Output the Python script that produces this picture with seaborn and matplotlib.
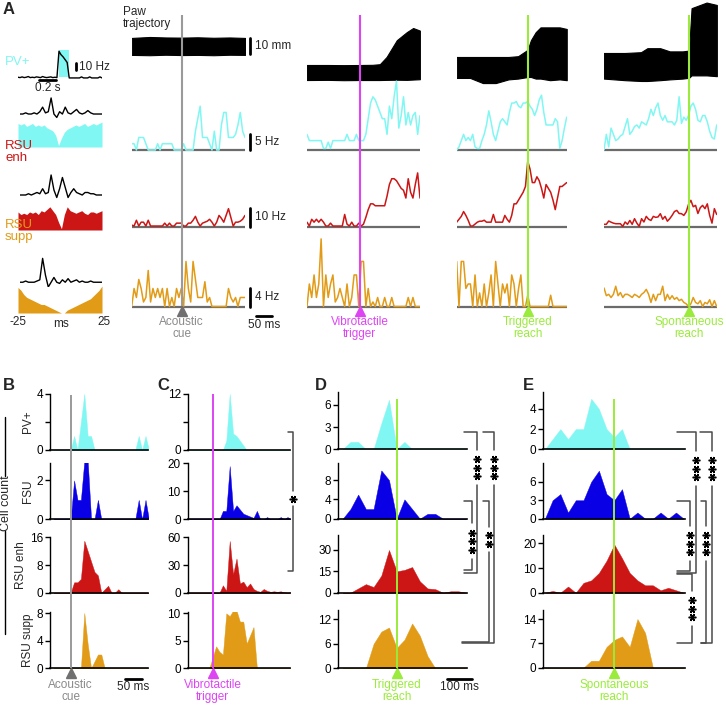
import numpy as np
import matplotlib
matplotlib.use("Agg")
import matplotlib.pyplot as plt
import seaborn as sns

W, H = 726, 705

CYAN = "#80f7f2"
BLUE = "#0a00e6"
RED = "#cc1616"
ORANGE = "#e19b17"
MAGENTA = "#dd45f3"
GREEN = "#9aeb3c"
GRAY = "#9a9a9a"
BASE = "#6b6b6b"

# ---------------- Panel A, left column ----------------
# PV+ opto-tagging PSTH (Hz), 25 ms bins, light on 0-0.12 s
pv_opto = [1, 0.5, 1.5, 0.5, 1, 2, 0.5, 1, 0.5, 1.5, 1, 0.5, 2, 1, 0.5, 1, 1.5, 0.5, 1, 0.5,
           38, 33, 30, 26, 22,
           0, 0, 0, 0, 0, 0, 1.5, 0, 0, 0, 1.5, 0, 0, 0, 0, 1.5, 0]
# cross- (black) and auto-correlograms (filled), -25..25 ms
pv_xcorr = [2, 2, 2.5, 2, 2, 2.5, 2, 3, 5, 2.5, 3, 9, 2, 0.5, 3, 2, 5, 2.5, 2, 3,
            4, 2.5, 2, 2.5, 3.5, 2.5, 2, 2, 2, 2]
pv_acorr = [8, 7.5, 8, 7, 7.5, 8, 7, 7.5, 7, 7.5, 6.5, 6, 5.5, 4, 0.5, 3, 5, 6, 6.5, 7,
            7.5, 7, 7.5, 8, 7, 7.5, 8, 7.5, 8, 8.5]
enh_xcorr = [2, 2, 2, 2.5, 2, 2.5, 3, 2.5, 4.5, 2.5, 3, 10, 4, 1, 4.5, 9, 5, 1, 3, 4.5,
             3, 2.5, 2, 3, 3, 2.5, 2.5, 2, 2, 2]
enh_acorr = [7, 6, 6.5, 6, 7, 6.5, 7, 6, 7.5, 7, 8, 9, 7.5, 6, 3, 0.5, 6, 9, 7.5, 7,
             6.5, 7, 7.5, 6.5, 6, 7, 7, 6.5, 7, 7.5]
supp_xcorr = [2, 2, 2.5, 2, 2, 2, 2.5, 3, 12, 5, 0, 2, 4, 2, 1.5, 3, 2, 3.5, 2, 2.5,
              3, 2, 2.5, 2, 2, 2.5, 2, 2, 2, 2]
supp_acorr = [9, 8, 6.5, 5.5, 5, 4.5, 4, 3.5, 3, 3, 2.5, 2, 1.5, 1, 0.5, 0, 0, 1, 1.5, 2,
              2.5, 3, 3.5, 4, 4.5, 5, 6, 7, 8, 9.5]

# ---------------- Panel A, paw trajectory envelopes (mm) ----------------
paw_t_cue = [-156, -100, -50, 0, 50, 100, 150, 198]
paw_hi_cue = [29.4, 30, 29.7, 29.6, 29.8, 29.5, 29.7, 29.4]
paw_lo_cue = [18.8, 18.6, 18.9, 18.7, 18.8, 18.6, 18.9, 18.8]
paw_t_vib = [-165, -100, -50, 0, 40, 63, 84, 116, 147, 167, 188]
paw_hi_vib = [12.5, 12.5, 12.4, 12.5, 12.6, 13, 17.5, 28, 33, 35.6, 34]
paw_lo_vib = [3.1, 3.2, 3.0, 3.1, 3.1, 3.1, 3.2, 3.3, 3.2, 3.4, 3.6]
paw_t_trig = [-222, -180, -140, -100, -60, -30, 0, 10, 25, 40, 70, 100, 122]
paw_hi_trig = [17.5, 17.5, 17.5, 17.5, 17.5, 18, 22, 28, 33, 36, 36, 36, 35]
paw_lo_trig = [4.4, 4.4, 1.2, 1.2, 3.5, 4, 5, 5, 4, 4, 3, 3.5, 3]
paw_t_spon = [-266, -200, -150, -130, -90, -60, -20, 0, 8, 55, 87]
paw_hi_spon = [20, 20, 20.5, 23, 23, 21, 21, 21.5, 48, 51.5, 50]
paw_lo_spon = [4, 3, 2.5, 2.5, 3, 3.5, 4, 4.5, 6, 6, 5.5]

# ---------------- Panel A, firing rates (Hz) ----------------
cyan_cue = [2, 2, 0, 4, 4, 4, 2, 0, 0, 0, 0, 2, 0, 2, 2, 2, 2, 2, 0, 0, 0, 0, 2, 0, 0,
            0, 0, 6, 10, 14, 4, 4, 4, 2, 0, 6, 0, 0, 8, 12, 12, 4, 4, 4, 5, 8, 12, 6, 4]
red_cue = [1, 0.5, 3.5, 0.5, 2.5, 2.5, 0.5, 3.5, 0.5, 0.5, 0.5, 0.5, 0.5, 0.5, 2, 0.5, 2,
           0.5, 0.5, 2, 2, 2, 0.5, 0.5, 2, 2, 3.5, 5.5, 2.5, 0.5, 2, 2.5, 3, 4, 2.5, 0.5,
           2.5, 6, 4.5, 2.5, 6, 9.5, 5, 0.5, 2.5, 2.5, 3, 4, 6]
orange_cue = [0, 4, 2, 6, 4, 1, 2, 8, 1, 4, 2, 4, 2, 4, 0, 4, 0, 2, 0, 4, 2, 4, 0, 10, 4,
              1, 10, 6, 2, 2, 2, 5.5, 1, 2, 0, 0, 0, 0, 0, 0, 0, 4, 2, 1, 2, 0, 2, 2, 2]
cyan_vib = [5, 3, 3, 3, 3, 3, 3, 0.5, 0.5, 2.5, 0.5, 3, 3, 3, 3, 3, 3, 5, 3, 3, 3, 5, 3, 3,
            3, 5, 10, 15, 17, 16, 14, 12, 10, 10, 5, 14, 10, 17, 22, 7, 11, 17, 8, 12, 8,
            11, 12, 5, 11]
red_vib = [2.5, 0.5, 4, 2.5, 4, 2.5, 4, 2.5, 0.5, 0.5, 2, 0.5, 0.5, 0.5, 0.5, 0.5, 6.5,
           1.5, 0.5, 2.5, 0.5, 0.5, 2, 0.5, 1.5, 5, 9, 12, 12, 11, 11, 11, 11, 11, 16, 22,
           25, 25, 24, 22, 20, 19, 15, 25, 18, 15, 22, 28, 15]
orange_vib = [0, 5, 2, 7, 2, 5, 15, 0, 7, 2, 5, 7, 1, 2, 4, 2, 0, 5, 0, 2, 7, 7, 0, 10, 10,
              0, 4, 0, 1, 0, 2, 0, 0, 2, 0, 0, 2, 0, 0, 0, 0, 0, 0, 2, 0, 2, 0, 0, 0]
cyan_trig = [0, 1, 3, 5, 3, 4, 3, 5, 1, 0.5, 0.5, 3, 5, 8, 12.5, 9, 5, 3, 6, 9, 10, 9, 8,
             12, 15, 15, 15.5, 14, 13.5, 15, 15, 15.5, 14, 13, 11, 13, 16, 17.5, 12, 8, 8,
             8, 8, 10, 9, 0.5, 3, 7, 10.5]
red_trig = [2.5, 4, 5.5, 8, 6, 3.5, 0.5, 0.5, 1.5, 2.5, 3, 3, 3.5, 2.5, 2.5, 2.5, 6.5, 2.5,
            2.5, 2.5, 2.5, 6, 4, 2.5, 6, 12, 12, 14, 16, 18, 21, 34, 30, 23, 23, 26, 24,
            20, 15, 22, 20, 18, 14, 9, 15, 21, 21, 22, 23]
orange_trig = [10, 0, 10, 10, 4, 5, 5, 0, 7, 0, 3, 0, 5, 0, 3, 7, 0, 10, 5, 0, 5, 3, 5, 0,
               7, 5, 0, 4, 7, 0, 0, 2.5, 0, 0, 0, 0, 0, 0, 0, 0, 0, 2.5, 0, 0, 0, 0, 0, 0, 0]
cyan_spon = [0, 5, 1, 7, 5, 3, 3.5, 4.5, 5, 7.5, 10, 5, 6, 7.5, 8, 7, 9, 8.5, 8, 10, 13, 11,
             13.5, 15, 11, 9.5, 11, 9, 9, 9, 8, 9.5, 17, 8.5, 10.5, 9.5, 11, 14, 15, 13,
             9.5, 9, 11, 11, 9, 6, 4, 3.5, 8]
red_spon = [1.4, 1.4, 3.1, 2.5, 2, 1.7, 1.7, 1.7, 0.3, 2.6, 1.4, 3.4, 1.4, 4.3, 2, 0.3,
            4.3, 2.6, 5.5, 4, 3.4, 5.5, 5, 5.2, 6.9, 4, 5.5, 3, 4.3, 6, 8, 8.6, 7, 6.9, 6,
            7.8, 11.7, 13.8, 10.5, 11.2, 7, 10, 11.2, 9.5, 12, 6, 2, 9.5, 6.5]
orange_spon = [4.1, 2.4, 2.7, 2, 2.7, 4.5, 2.4, 3.1, 2, 2.7, 2.7, 2.4, 2, 2.7, 2.4, 2, 2.7,
               3.1, 3.8, 2.7, 0.9, 2.7, 1.3, 2.7, 2.7, 4.5, 1.3, 2.7, 1.6, 2.4, 1.6, 2,
               1.3, 1.6, 0.9, 0.6, 0, 0.6, 2, 0.9, 0.6, 1.3, 0, 0.9, 0.6, 1.5, 0, 1.3, 0]

# ---------------- Panels B-E: cell counts per bin ----------------
t_b = np.arange(-50, 240, 10)
pv_b = [0, 0, 0, 0, 0, 0, 1, 0, 2, 4, 1, 1, 0, 0, 0, 0, 0, 0, 0, 0, 0, 0, 0, 0, 0, 1, 0, 1, 0]
fsu_b = [0, 0, 0, 0, 0, 0, 2, 1, 1, 3, 3, 0, 0, 1, 0, 0, 0, 0, 0, 0, 0, 0, 0, 0, 0, 1, 0, 1, 0]
enh_b = [0, 0, 0, 0, 0, 0, 3, 3, 4, 15, 12, 9, 6, 5, 0, 1, 2, 0, 0, 1, 0, 0, 0, 0, 0, 0, 0, 0, 0]
supp_b = [0, 0, 0, 0, 0, 0, 0, 0, 0, 8, 3.5, 0, 1, 2, 2, 0, 0, 0, 0, 0, 0, 0, 0, 0, 0, 0, 0, 0, 0]

t_c = np.arange(-70, 240, 10)
pv_c = [0, 0, 0, 0, 0, 0, 0, 0, 0, 0, 0, 2, 12, 3.5, 3, 2, 1, 0, 0, 0, 0, 0, 0, 0, 0, 0, 0,
        0, 0, 0, 0]
fsu_c = [0, 0, 0, 0, 0, 0, 0, 0, 0, 0, 3, 3, 19, 3, 5, 3.5, 2, 1.5, 1, 0.5, 3, 0, 0, 0.8,
         0, 0, 0, 0.8, 0, 0.8, 0]
enh_c = [0, 0, 0, 0, 0, 0, 0, 0, 0, 0, 8, 2, 56, 20, 37, 10, 12, 6, 10, 4, 2, 1, 4, 2, 1,
         1.5, 1, 1.5, 0.5, 0, 0.5]
supp_c = [0, 0, 0, 0, 0, 0, 0, 2, 4, 3, 2.5, 10, 9.5, 10.5, 10.5, 8.5, 8.5, 4.5, 6, 7.5,
          0, 0, 0, 0, 0, 0, 0, 0, 0, 0, 0]

t_d = np.arange(-210, 300, 30)
pv_d = [0, 1, 1, 0, 0, 3.5, 6.7, 0, 1, 0, 0, 0, 0, 0, 0, 0, 0]
fsu_d = [0, 2, 5, 2, 2, 10, 8, 0, 4, 2, 0, 1, 1, 0, 0, 0, 0]
enh_d = [0, 0, 3, 6, 4, 12, 30, 15, 16, 18, 8, 3, 2.5, 0, 1, 1, 0]
supp_d = [0, 0, 0, 0, 6, 9, 10, 5, 7, 11, 8, 3, 0, 0, 0, 0, 0]

t_e = np.arange(-270, 300, 30)
pv_e = [0, 1, 2, 1, 2, 2, 5, 4, 2, 1.2, 2, 0, 0, 0, 0, 0, 0, 0, 0]
fsu_e = [0, 3, 4, 1, 3, 3, 6, 7.8, 4, 3, 4.8, 0, 1, 0, 0, 1, 0, 1, 0]
enh_e = [0, 0.7, 0, 2.5, 0, 4, 5, 8, 13, 19.5, 14, 8, 5, 3, 3, 1, 2, 1, 0]
supp_e = [0, 0, 0, 0, 0, 0, 2, 2, 6, 8, 9, 6, 14, 10, 0, 0, 0, 0, 0]

row_names = ["PV+", "FSU", "RSU enh", "RSU supp"]
row_colors = [CYAN, BLUE, RED, ORANGE]

sns.set_theme(style="ticks")
plt.rcParams["font.family"] = ["Liberation Sans", "DejaVu Sans"]
plt.rcParams["axes.linewidth"] = 1.0

fig = plt.figure(figsize=(W / 100, H / 100), dpi=100)


def px_axes(x0, y0, x1, y1):
    """Axes from a pixel box (left, top, right, bottom) of the image."""
    ax = fig.add_axes([x0 / W, 1 - y1 / H, (x1 - x0) / W, (y1 - y0) / H])
    ax.patch.set_alpha(0)
    return ax


def bare(ax):
    ax.set_axis_off()


def trace(ax, x, y, color, lw=1.1):
    sns.lineplot(x=x, y=y, ax=ax, color=color, lw=lw, errorbar=None)


def ftext(x, y, s, **kw):
    fig.text(x / W, 1 - y / H, s, **kw)


# ======================= Panel A, left column =======================
ax = px_axes(18, 47, 102, 79)
t_opto = np.linspace(-0.5, 0.525, len(pv_opto))
ax.axvspan(0, 0.12, ymin=0.06, ymax=0.9, color=CYAN, lw=0)
trace(ax, t_opto, pv_opto, "black", lw=1.0)
ax.set_xlim(-0.5, 0.525)
ax.set_ylim(-1.5, 44)
ax.plot([0.21, 0.21], [11, 21], color="black", lw=2, clip_on=False)
ax.text(0.24, 16, "10 Hz", fontsize=8.5, va="center", ha="left")
ax.plot([-0.24, -0.04], [-3.6, -3.6], color="black", lw=2, clip_on=False)
ax.text(-0.14, -5.5, "0.2 s", fontsize=8.5, va="top", ha="center")
bare(ax)

lag = np.linspace(-25, 25, 30)
corr_boxes = [
    (pv_xcorr, (95, 118.6), 10.3, pv_acorr, (122, 147), 8.5, CYAN),
    (enh_xcorr, (170, 200), 12, enh_acorr, (205, 230), 9.7, RED),
    (supp_xcorr, (256, 287), 13, supp_acorr, (286, 313), 9.5, ORANGE),
]
for xc, (xt, xb), xm, ac, (at, ab), am, col in corr_boxes:
    ax = px_axes(18, at, 102, ab)
    ax.fill_between(lag, ac, color=col, lw=0)
    ax.set_xlim(-25, 25)
    ax.set_ylim(0, am)
    bare(ax)
    ax = px_axes(20, xt, 102, xb)
    trace(ax, lag, xc, "black", lw=1.0)
    ax.set_xlim(-25, 25)
    ax.set_ylim(0, xm)
    bare(ax)
ftext(17.5, 316, "-25", fontsize=8.5, ha="center", va="top")
ftext(61, 318, "ms", fontsize=8.5, ha="center", va="top")
ftext(103.5, 316, "25", fontsize=8.5, ha="center", va="top")

ftext(5, 62, "PV+", color=CYAN, fontsize=9.5, va="center")
ftext(5, 140, "RSU\nenh", color=RED, fontsize=9.5, va="top", linespacing=0.95)
ftext(5, 219, "RSU\nsupp", color=ORANGE, fontsize=9.5, va="top", linespacing=0.95)
ftext(3, 2, "A", fontsize=12, fontweight="bold", va="top")
ftext(123, 6, "Paw\ntrajectory", fontsize=8.5, va="top", linespacing=0.95)

# ======================= Panel A, event columns =======================
A_K = 50 / 16  # ms per pixel
a_cols = [
    (131.7, 181.7, 245.0, GRAY, "#707070", "Acoustic\ncue", "#8a8a8a"),
    (307.0, 359.7, 420.0, MAGENTA, MAGENTA, "Vibrotactile\ntrigger", MAGENTA),
    (456.7, 527.7, 566.7, GREEN, GREEN, "Triggered\nreach", GREEN),
    (604.0, 689.0, 716.7, GREEN, GREEN, "Spontaneous\nreach", GREEN),
]
a_data = [
    (paw_t_cue, paw_lo_cue, paw_hi_cue, cyan_cue, red_cue, orange_cue),
    (paw_t_vib, paw_lo_vib, paw_hi_vib, cyan_vib, red_vib, orange_vib),
    (paw_t_trig, paw_lo_trig, paw_hi_trig, cyan_trig, red_trig, orange_trig),
    (paw_t_spon, paw_lo_spon, paw_hi_spon, cyan_spon, red_spon, orange_spon),
]
hz_rows = [(78, 150, 23), (160, 227, 34.7), (238, 306.5, 15.2)]
scale_vals = [5, 10, 4]
scale_text = ["5 Hz", "10 Hz", "4 Hz"]

for ci, ((x0, ev, x1, ecol, mcol, lab, lcol), (pt, plo, phi, cy, rd, og)) in enumerate(zip(a_cols, a_data)):
    xlim = ((x0 - ev) * A_K, (x1 - ev) * A_K)
    bar_t = (250 - ev) * A_K
    txt_t = (255 - ev) * A_K

    ax = px_axes(x0, 0, x1, 85)
    ax.fill_between(pt, plo, phi, color="black", lw=0.8)
    ax.set_xlim(xlim)
    ax.set_ylim(0, 53.1)
    bare(ax)
    if ci == 0:
        ax.plot([bar_t, bar_t], [19.4, 29.4], color="black", lw=2, clip_on=False)
        ax.text(txt_t, 24.4, "10 mm", fontsize=8.5, va="center", clip_on=False)

    for ri, (vals, color, (top, bot, ymax)) in enumerate(zip((cy, rd, og), (CYAN, RED, ORANGE), hz_rows)):
        upp = ymax / (bot - top)
        ax = px_axes(x0, top, x1, bot + 3)
        t = np.linspace(xlim[0], xlim[1], len(vals))
        ax.axhline(0, color=BASE, lw=1.6, zorder=1)
        trace(ax, t, vals, color)
        ax.set_xlim(xlim)
        ax.set_ylim(-3 * upp, ymax)
        bare(ax)
        if ci == 0:
            ax.plot([bar_t, bar_t], [0, scale_vals[ri]], color="black", lw=2, clip_on=False)
            ax.text(txt_t, scale_vals[ri] / 2, scale_text[ri], fontsize=8.5, va="center")
            if ri == 2:
                x50 = (256 - ev) * A_K
                ax.plot([x50, x50 + 50], [-9.5 * upp, -9.5 * upp], color="black", lw=2, clip_on=False)
                ax.text(x50 + 25, -12 * upp, "50 ms", fontsize=8.5, ha="center", va="top")

    ov = px_axes(x0, 0, x1, 345)
    ov.set_xlim(xlim)
    ov.set_ylim(345, 0)
    ov.vlines(0, 15, 306, color=ecol, lw=1.5)
    ov.plot([0], [311], marker="^", ms=7, color=mcol, mec=mcol)
    ov.text(0, 316, lab, color=lcol, fontsize=8.5, ha="center", va="top", linespacing=0.95)
    bare(ov)

# ======================= Panels B-E =======================
panels = [
    dict(letter="B", lx=3, x0=50, ev=70.7, x1=148, k=50 / 17, t=t_b,
         series=[pv_b, fsu_b, enh_b, supp_b], ecol=GRAY, mcol="#707070",
         lab="Acoustic\ncue", lcol="#8a8a8a", etop=395,
         rows=[(394, 450, 4, [0, 2, 4], ["0", "", "4"]),
               (463, 519.3, 2.9, [0, 2], ["0", "2"]),
               (537.3, 592.7, 16, [0, 8, 16], ["0", "8", "16"]),
               (611.7, 668.3, 8.2, [0, 4, 8], ["0", "4", "8"])],
         bar=(125, 142, "50 ms")),
    dict(letter="C", lx=157, x0=187.7, ev=212.7, x1=290, k=50 / 17, t=t_c,
         series=[pv_c, fsu_c, enh_c, supp_c], ecol=MAGENTA, mcol=MAGENTA,
         lab="Vibrotactile\ntrigger", lcol=MAGENTA, etop=394,
         rows=[(394, 450, 12, [0, 6, 12], ["0", "", "12"]),
               (463.3, 519.3, 20, [0, 10, 20], ["0", "10", "20"]),
               (537.3, 592.7, 60, [0, 30, 60], ["0", "30", "60"]),
               (611.7, 668.3, 10.3, [0, 5, 10], ["0", "5", "10"])],
         bar=None),
    dict(letter="D", lx=315, x0=338.3, ev=396.7, x1=466.7, k=100 / 25.7, t=t_d,
         series=[pv_d, fsu_d, enh_d, supp_d], ecol=GREEN, mcol=GREEN,
         lab="Triggered\nreach", lcol=GREEN, etop=399,
         rows=[(391.7, 449.3, 7.8, [0, 3, 6], ["0", "3", "6"]),
               (462.7, 518.7, 11.6, [0, 4, 8], ["0", "4", "8"]),
               (535, 592.7, 40.5, [0, 15, 30], ["0", "15", "30"]),
               (610, 668.3, 14.3, [0, 6, 12], ["0", "6", "12"])],
         bar=(446.7, 472.3, "100 ms")),
    dict(letter="E", lx=523, x0=543.3, ev=614.3, x1=685, k=100 / 25.7, t=t_e,
         series=[pv_e, fsu_e, enh_e, supp_e], ecol=GREEN, mcol=GREEN,
         lab="Spontaneous\nreach", lcol=GREEN, etop=399,
         rows=[(391.7, 449.3, 5.7, [0, 2, 4], ["0", "2", "4"]),
               (462.7, 518.7, 9.1, [0, 3, 6], ["0", "3", "6"]),
               (535, 592.7, 23.4, [0, 10, 20], ["0", "10", "20"]),
               (610, 667.7, 16.6, [0, 7, 14], ["0", "7", "14"])],
         bar=None),
]

for p in panels:
    xlim = ((p["x0"] - p["ev"]) * p["k"], (p["x1"] - p["ev"]) * p["k"])
    ftext(p["lx"], 378, p["letter"], fontsize=12, fontweight="bold", va="top")
    for ri, (vals, col, (top, bot, ymax, ticks, tlabs)) in enumerate(zip(p["series"], row_colors, p["rows"])):
        ax = px_axes(p["x0"], top, p["x1"], bot)
        ax.fill_between(p["t"], vals, color=col, lw=0.3, ec=col)
        ax.set_xlim(xlim)
        ax.set_ylim(0, ymax)
        for s in ("top", "right"):
            ax.spines[s].set_visible(False)
        ax.spines["left"].set_color("black")
        ax.spines["left"].set_linewidth(1.0)
        ax.spines["bottom"].set_color("black")
        ax.spines["bottom"].set_linewidth(1.2)
        ax.set_xticks([])
        ax.set_yticks(ticks)
        ax.set_yticklabels(tlabs)
        ax.tick_params(axis="y", length=3.5, width=1, pad=1.5, labelsize=8.5, colors="black")
        if p["letter"] == "B":
            ax.set_ylabel(row_names[ri], fontsize=8.5, labelpad=2)
        if ri == 3 and p["bar"] is not None:
            bx0, bx1, btxt = p["bar"]
            upp = ymax / (bot - top)
            xa = (bx0 - p["ev"]) * p["k"]
            xb = (bx1 - p["ev"]) * p["k"]
            ax.plot([xa, xb], [-11 * upp, -11 * upp], color="black", lw=2, clip_on=False)
            ax.text((xa + xb) / 2, -13 * upp, btxt, fontsize=8.5, ha="center", va="top")

    ov = px_axes(p["x0"], 380, p["x1"], 705)
    ov.set_xlim(xlim)
    ov.set_ylim(705, 380)
    ov.vlines(0, p["etop"], 668, color=p["ecol"], lw=1.4)
    ov.plot([0], [673], marker="^", ms=7, color=p["mcol"], mec=p["mcol"])
    ov.text(0, 679, p["lab"], color=p["lcol"], fontsize=8.5, ha="center", va="top", linespacing=0.95)
    bare(ov)

# ======================= Annotations =======================
ann = fig.add_axes([0, 0, 1, 1])
ann.set_xlim(0, W)
ann.set_ylim(H, 0)
ann.patch.set_alpha(0)
ann.set_axis_off()

BR = "#4a4a4a"
STAR_STEP = 8.5


def bracket(x, ytop, ybot, ltop, lbot, s0, s1, n):
    ann.plot([ltop, x, x], [ytop, ytop, s0], color=BR, lw=1.1)
    ann.plot([x, x, lbot], [s1, ybot, ybot], color=BR, lw=1.1)
    mid = (s0 + s1) / 2
    ys = [mid + (i - (n - 1) / 2) * STAR_STEP for i in range(n)]
    ann.plot([x] * n, ys, ls="none", marker=(6, 2, 90), ms=5.5, mew=1.1, color="black")


bracket(293, 431.7, 570.7, 288, 288, 491, 506, 1)
bracket(476.7, 431.7, 572.7, 464, 464, 450, 485, 3)
bracket(494.3, 431.7, 643.3, 482.7, 461.7, 450, 485, 3)
bracket(471.7, 501, 570, 464, 464, 523, 559, 3)
bracket(489, 501, 641.7, 482.7, 461.7, 527, 552, 2)
bracket(695.7, 431.7, 573.3, 676.7, 676.7, 451, 486, 3)
bracket(711.7, 431.7, 643.3, 700, 700.7, 451, 486, 3)
bracket(690, 501, 570.7, 676.7, 676.7, 526, 561, 3)
bracket(706, 501, 643.3, 700.7, 700.7, 526, 561, 3)
bracket(691.7, 574, 643.3, 676.7, 676.7, 591, 626, 3)

ann.plot([5, 5], [417, 476], color="black", lw=1)
ann.plot([5, 5], [531, 634], color="black", lw=1)
ann.text(6.5, 503, "Cell count", rotation=90, ha="center", va="center", fontsize=9)

fig.savefig("out.png", dpi=100)
